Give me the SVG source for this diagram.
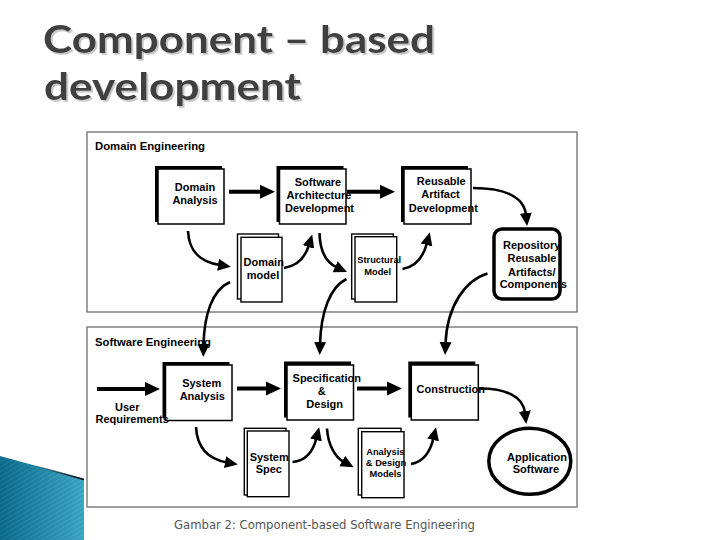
<svg xmlns="http://www.w3.org/2000/svg" width="720" height="540" viewBox="0 0 720 540">
<defs>
<style>
.title{font-family:Lato,"Liberation Sans",Arial,sans-serif;font-weight:bold;font-size:38px;fill:#404040}
.cap{font-family:"DejaVu Sans",Verdana,sans-serif;font-size:12.5px;fill:#555}
.pt{font-family:"Liberation Sans",Arial,sans-serif;font-weight:bold;font-size:10.5px;fill:#000}
.lb{font-family:"Liberation Sans",Arial,sans-serif;font-weight:bold;font-size:11px;fill:#000;text-anchor:middle}
.sm{font-family:"Liberation Sans",Arial,sans-serif;font-weight:bold;font-size:9.3px;fill:#000;text-anchor:middle}
.panel{fill:#fff;stroke:#808080;stroke-width:1.5}
.sh{fill:#000}
.bx{fill:#fff;stroke:#000;stroke-width:1.5}
.doc{fill:#fff;stroke:#000;stroke-width:1.4}
.thick{fill:none;stroke:#000;stroke-width:4;marker-end:url(#ah)}
.curve{fill:none;stroke:#000;stroke-width:2.6;marker-end:url(#ahc)}
</style>
<marker id="ah" markerUnits="userSpaceOnUse" markerWidth="16" markerHeight="16" refX="2" refY="8" orient="auto">
<path d="M0,1 L15,8 L0,15 z" fill="#000"/>
</marker>
<marker id="ahc" markerUnits="userSpaceOnUse" markerWidth="14" markerHeight="14" refX="2" refY="6.5" orient="auto">
<path d="M0,0.5 L13,6.5 L0,12.5 z" fill="#000"/>
</marker>
<filter id="tsh" x="-5%" y="-20%" width="110%" height="140%">
<feDropShadow dx="1.8" dy="1.8" stdDeviation="0.7" flood-color="#c0c0c0" flood-opacity="0.9"/>
</filter>
<linearGradient id="teal" x1="0" y1="0" x2="1" y2="0">
<stop offset="0" stop-color="#0a6a8a"/>
<stop offset="1" stop-color="#3aa3c3"/>
</linearGradient>
<linearGradient id="edge" x1="0" y1="0" x2="1" y2="0">
<stop offset="0" stop-color="#000" stop-opacity="0"/>
<stop offset="1" stop-color="#000" stop-opacity="1"/>
</linearGradient>
<pattern id="stripes" width="4" height="4" patternUnits="userSpaceOnUse" patternTransform="rotate(60)">
<rect width="1" height="4" fill="#ffffff" opacity="0.08"/>
</pattern>
</defs>
<rect width="720" height="540" fill="#fff"/>

<g id="title">
<text class="title" x="43" y="53" textLength="392" lengthAdjust="spacingAndGlyphs" filter="url(#tsh)">Component – based</text>
<text class="title" x="44" y="100" textLength="257" lengthAdjust="spacingAndGlyphs" filter="url(#tsh)">development</text>
</g>

<g id="decor">
<polygon points="0,456 84,479 84,540 0,540" fill="url(#teal)"/>
<polygon points="0,456 84,479 84,540 0,540" fill="url(#stripes)"/>
<line x1="30" y1="464.3" x2="84" y2="479.5" stroke="url(#edge)" stroke-width="1.6"/>
</g>

<g id="panel-domain">
<rect class="panel" x="87" y="132" width="490" height="180"/>
<text class="pt" x="95" y="149.5" textLength="110" lengthAdjust="spacingAndGlyphs">Domain Engineering</text>
</g>
<g id="panel-software">
<rect class="panel" x="87" y="327" width="490" height="180"/>
<text class="pt" x="95" y="346" textLength="116" lengthAdjust="spacingAndGlyphs">Software Engineering</text>
</g>

<g id="connectors">
<path class="thick" d="M229,191.7 H262"/>
<path class="thick" d="M347,191.7 H382"/>
<path class="thick" d="M97,389 H147"/>
<path class="thick" d="M237,388.5 H268"/>
<path class="thick" d="M357,388.5 H389"/>
<path class="curve" d="M188,231 C189,252 200,262 220,265"/>
<path class="curve" d="M284,268 C297,266 305,258 309,245"/>
<path class="curve" d="M319.5,233 C320,252 327,263 337,267.5"/>
<path class="curve" d="M402.5,269 C415,267 423,258 427,243"/>
<path class="curve" d="M473,188 C503,188 524,196 526,215"/>
<path class="curve" d="M230,282 C212,290 204,315 203.5,346"/>
<path class="curve" d="M346.5,279 C330,287 321,312 320,344"/>
<path class="curve" d="M487.5,273.5 C466,280 447,305 445.5,344"/>
<path class="curve" d="M196,427 C197,447 208,459 227,462.5"/>
<path class="curve" d="M292.5,462 C305,461 313,452 316.5,438"/>
<path class="curve" d="M327,428.5 C328,445 335,457 344,462"/>
<path class="curve" d="M411,464 C423,462 430,453 433.5,438"/>
<path class="curve" d="M478,388.5 C505,388 523,396 525,413"/>
</g>

<g id="domain-analysis">
<rect class="sh" x="155" y="166" width="67" height="56"/>
<rect class="bx" x="158" y="169" width="66" height="55"/>
<text class="lb" x="195" y="190.5">Domain</text>
<text class="lb" x="195" y="204">Analysis</text>
</g>
<g id="software-architecture">
<rect class="sh" x="276.5" y="166" width="67" height="56"/>
<rect class="bx" x="279.5" y="169" width="66.5" height="55"/>
<text class="lb" x="318" y="186">Software</text>
<text class="lb" x="319" y="199">Architecture</text>
<text class="lb" x="319.5" y="212.3">Development</text>
</g>
<g id="reusable-artifact">
<rect class="sh" x="401" y="166" width="67" height="56"/>
<rect class="bx" x="404" y="169" width="67" height="55"/>
<text class="lb" x="441.3" y="185">Reusable</text>
<text class="lb" x="440.5" y="198.3">Artifact</text>
<text class="lb" x="443.3" y="211.7">Development</text>
</g>
<g id="repository">
<rect x="494" y="229" width="66" height="70" rx="8" fill="#fff" stroke="#000" stroke-width="3.5"/>
<text class="lb" x="531.7" y="249">Repository</text>
<text class="lb" x="532" y="262.3">Reusable</text>
<text class="lb" x="531.8" y="275.7">Artifacts/</text>
<text class="lb" x="533.3" y="288.3">Components</text>
</g>
<g id="domain-model">
<rect class="doc" x="237.5" y="234" width="41" height="65"/>
<rect class="doc" x="241" y="237.3" width="41" height="64.7"/>
<text class="lb" x="263.7" y="265.7">Domain</text>
<text class="lb" x="263" y="279">model</text>
</g>
<g id="structural-model">
<rect class="doc" x="351.7" y="234" width="41.6" height="65"/>
<rect class="doc" x="355" y="236.7" width="41.7" height="65.3"/>
<text class="sm" x="379.2" y="263.3">Structural</text>
<text class="sm" x="377.7" y="275">Model</text>
</g>

<g id="system-analysis">
<rect class="sh" x="162.5" y="362" width="67" height="56"/>
<rect class="bx" x="165.5" y="365" width="66.5" height="55.5"/>
<text class="lb" x="201.7" y="387.3">System</text>
<text class="lb" x="202.3" y="400">Analysis</text>
</g>
<g id="spec-design">
<rect class="sh" x="284" y="361.5" width="67" height="56"/>
<rect class="bx" x="287" y="365" width="66.5" height="55"/>
<text class="lb" x="326.8" y="382.3">Specification</text>
<text class="lb" x="321.7" y="395">&amp;</text>
<text class="lb" x="324.7" y="408.3">Design</text>
</g>
<g id="construction">
<rect class="sh" x="408.3" y="361.5" width="67" height="56"/>
<rect class="bx" x="411.3" y="365" width="67" height="55"/>
<text class="lb" x="450.8" y="393.3">Construction</text>
</g>
<g id="application-software">
<ellipse cx="529.8" cy="461.3" rx="41" ry="33" fill="#fff" stroke="#000" stroke-width="3.5"/>
<text class="lb" x="537" y="460.7">Application</text>
<text class="lb" x="536" y="472.7">Software</text>
</g>
<g id="system-spec">
<rect class="doc" x="244.3" y="428.3" width="41.7" height="66.7"/>
<rect class="doc" x="247.3" y="431" width="41.7" height="65.7"/>
<text class="lb" x="269.2" y="461">System</text>
<text class="lb" x="268.8" y="473.3">Spec</text>
</g>
<g id="analysis-design-models">
<rect class="doc" x="358.3" y="428.3" width="42.7" height="66.7"/>
<rect class="doc" x="361.7" y="431.7" width="42.3" height="66"/>
<text class="sm" x="385.3" y="455">Analysis</text>
<text class="sm" x="386" y="466">&amp; Design</text>
<text class="sm" x="385.5" y="477.3">Models</text>
</g>
<g id="user-requirements">
<text class="lb" x="127.2" y="410.7">User</text>
<text class="lb" x="132.2" y="423.3">Requirements</text>
</g>

<g id="caption">
<text class="cap" x="174" y="529.3" textLength="301" lengthAdjust="spacingAndGlyphs">Gambar 2: Component-based Software Engineering</text>
</g>
</svg>
